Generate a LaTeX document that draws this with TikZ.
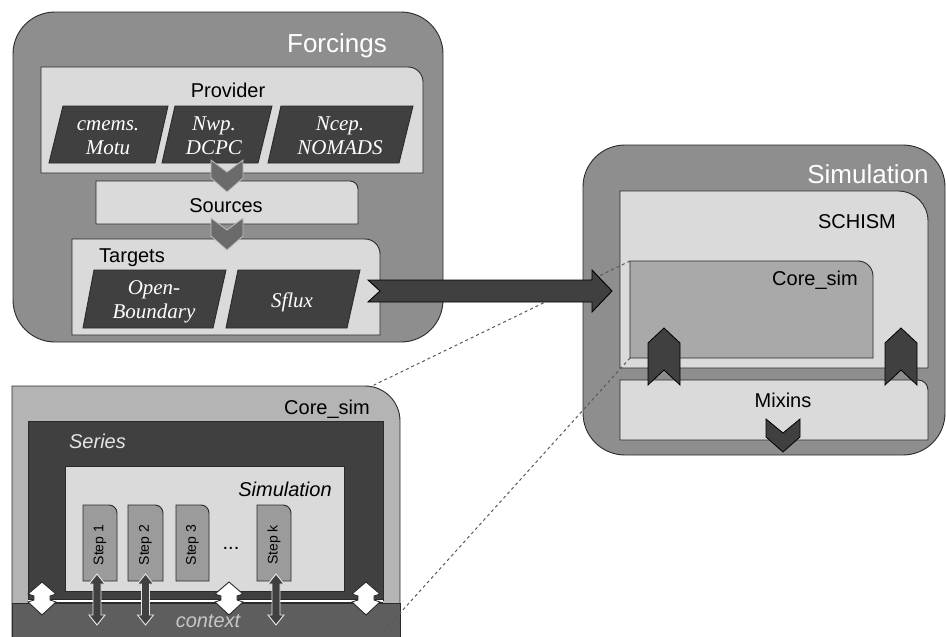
\documentclass[tikz,border=0pt]{standalone}
\usepackage{fontspec}
\setmainfont{Liberation Sans}
\newfontfamily\tnr{Liberation Serif}
\usetikzlibrary{calc}
\definecolor{outerg}{HTML}{8E8E8E}
\definecolor{lightg}{HTML}{DADADA}
\definecolor{darkg}{HTML}{404040}
\definecolor{midg}{HTML}{A9A9A9}
\definecolor{coreg}{HTML}{B4B4B4}
\definecolor{stepg}{HTML}{9B9B9B}
\definecolor{ctxg}{HTML}{5E5E5E}
\definecolor{chevg}{HTML}{6B6B6B}
\definecolor{edge}{HTML}{2A2A2A}
\tikzset{
  boxline/.style={draw=edge, line width=0.9pt},
  lbl/.style={font=\fontsize{20}{24}\selectfont, inner sep=0pt, text=black, anchor=base},
  biglbl/.style={font=\fontsize{26}{30}\selectfont, inner sep=0pt, text=white, anchor=base},
  itlbl/.style={font=\itshape\fontsize{20}{24}\selectfont, inner sep=0pt, anchor=base},
  ptext/.style={font=\tnr\itshape\fontsize{21}{24}\selectfont, text=white, align=center, inner sep=0pt, anchor=base},
  pshape/.style={draw=edge, line width=0.9pt, fill=darkg},
  chevA/.style={draw=black!25, line width=0.8pt, fill=chevg},
  chevB/.style={draw=black, line width=0.8pt, fill=darkg},
  steplbl/.style={font=\fontsize{14}{16}\selectfont, inner sep=0pt, rotate=90},
  stepar/.style={draw=black!10, line width=0.9pt, fill=darkg},
  whar/.style={draw=edge, line width=0.9pt, fill=white},
  dashln/.style={draw=black!65, dashed, line width=1pt},
  bigarrow/.style={draw=black, line width=0.9pt, fill=darkg},
  plainbox/.style={draw=edge, line width=0.9pt, inner sep=0pt},
  ghost/.style={inner sep=0pt, outer sep=0pt}
}
% box with only the top-right corner rounded: name, fill, x1, y1, x2, y2, r
\newcommand\rtbox[7]{%
  \draw[boxline, fill=#2] (#3,#6) -- (#3,#4) -- (#5-#7,#4)
    .. controls (#5-0.4477*#7,#4) and (#5,#4+0.4477*#7) .. (#5,#4+#7) -- (#5,#6) -- cycle;
  \node[ghost, minimum width={#5pt-#3pt}, minimum height={#6pt-#4pt}] (#1) at ({(#3+#5)/2},{(#4+#6)/2}) {};
}
% parallelogram: xTL, xTR, xBR, xBL, yT, yB
\newcommand\pgram[6]{%
  \draw[pshape] (#1,#5) -- (#2,#5) -- (#3,#6) -- (#4,#6) -- cycle;
}
% chevron: style, cx, y0, halfwidth, notch, shoulder, length, dir
\newcommand\chev[8][]{%
  \draw[#1] (#2-#4,#3) -- (#2,#3+#8*#5) -- (#2+#4,#3) -- (#2+#4,#3+#8*#6)
    -- (#2,#3+#8*#7) -- (#2-#4,#3+#8*#6) -- cycle;
}
% vertical double arrow: cx, ytop, ybot
\newcommand\dblarrow[3]{%
  \draw[stepar] (#1,#2) -- (#1+8,#2+10) -- (#1+4,#2+10) -- (#1+4,#3-10)
    -- (#1+8,#3-10) -- (#1,#3) -- (#1-8,#3-10) -- (#1-4,#3-10)
    -- (#1-4,#2+10) -- (#1-8,#2+10) -- cycle;
}
% white double arrow: cx
\newcommand\wharrow[1]{%
  \draw[whar] (#1,582) -- (#1+14,594) -- (#1+8,596) -- (#1+8,600) -- (#1+14,602)
    -- (#1,615) -- (#1-14,602) -- (#1-8,600) -- (#1-8,596) -- (#1-14,594) -- cycle;
}
\begin{document}
\begin{tikzpicture}[x=1pt,y=-1pt]
\useasboundingbox (0,0) rectangle (946,637);

% ================= Forcings =================
\node[plainbox, fill=outerg, rounded corners=42pt, minimum width=430pt, minimum height=330pt] (forcings) at (228,177) {};
\node[biglbl] (forcingsT) at (337,52) {Forcings};

\rtbox{provider}{lightg}{41}{67}{423}{173}{15}
\node[lbl] (providerT) at (228,97) {Provider};
\pgram{63}{168}{155}{49}{106}{163}
\node[ptext] (cmems) at (108,154) {cmems.\\Motu};
\pgram{175}{272}{258}{162}{106}{163}
\node[ptext] (nwp) at (214,154) {Nwp.\\DCPC};
\pgram{281}{413}{399}{268}{106}{163}
\node[ptext] (ncep) at (340,154) {Ncep.\\NOMADS};

\rtbox{sources}{lightg}{96}{181}{358}{224}{8}
\node[lbl] (sourcesT) at (226,212) {Sources};

\rtbox{targets}{lightg}{72}{239}{380}{335}{15}
\node[lbl] (targetsT) at (132,262) {Targets};
\pgram{94}{226}{213}{83}{270}{328}
\node[ptext] (openb) at (154,318) {Open-\\Boundary};
\pgram{238}{360}{347}{226}{270}{328}
\node[ptext] (sflux) at (292,307) {Sflux};

\chev[chevA]{227}{160}{16}{12}{18}{32}{1}
\chev[chevA]{227}{218}{16}{12}{18}{32}{1}

% ================= Simulation =================
\node[plainbox, fill=outerg, rounded corners=42pt, minimum width=362pt, minimum height=310pt] (simulation) at (764,300) {};
\node[biglbl] (simulationT) at (868,183) {Simulation};

\rtbox{schism}{lightg}{620}{191}{928}{368}{30}
\node[lbl] (schismT) at (857,228) {SCHISM};
\rtbox{coresim}{midg}{630}{261}{873}{358}{15}
\node[lbl] (coresimT) at (815,285) {Core\_sim};
\rtbox{mixins}{lightg}{620}{380}{928}{440}{10}
\node[lbl] (mixinsT) at (783,407) {Mixins};

\chev[chevB]{664}{385}{16}{15}{42}{57}{-1}
\chev[chevB]{901}{385}{16}{15}{42}{57}{-1}
\chev[chevB]{783}{419}{17}{14}{18}{33}{1}

% ================= Lower Core_sim =================
\rtbox{lowcore}{coreg}{12}{386}{400}{636.5}{35}
\node[lbl] (lowcoreT) at (327,414) {Core\_sim};
\node[plainbox, fill=darkg, minimum width=355pt, minimum height=179pt] (series) at (205.5,510.5) {};
\node[itlbl, text=black!10] (seriesT) at (97.5,448) {Series};
\node[plainbox, fill=lightg, minimum width=279pt, minimum height=125pt] (simbox) at (204.5,528.5) {};
\node[itlbl, text=black] (simboxT) at (285,496) {Simulation};

\rtbox{s1}{stepg}{83}{505}{117}{581}{8}
\rtbox{s2}{stepg}{128}{505}{163}{581}{8}
\rtbox{s3}{stepg}{176}{505}{209}{581}{8}
\rtbox{sk}{stepg}{257}{505}{291}{581}{8}
\node[steplbl] (s1T) at (100,545) {Step 1};
\node[steplbl] (s2T) at (145.5,545) {Step 2};
\node[steplbl] (s3T) at (192.5,545) {Step 3};
\node[steplbl] (skT) at (274,545) {Step k};
\node[lbl] (dots) at (231,549) {...};

\node[plainbox, fill=ctxg, minimum width=388pt, minimum height=34pt] (context) at (206,620) {};
\node[itlbl, text=black!22] (contextT) at (208,627) {context};
\draw[edge, line width=3.2pt] (28,601) -- (383,601);
\draw[white, line width=1.4pt] (28,601) -- (383,601);

\dblarrow{97}{574}{625}
\dblarrow{145.5}{574}{625}
\dblarrow{276}{574}{625}
\wharrow{42}
\wharrow{229}
\wharrow{366}

% ================= connectors =================
\coordinate (lowtr) at (370,387);
\coordinate (lowbr) at (383,632);
\draw[dashln] (coresim.north west) -- (lowtr);
\draw[dashln] (coresim.south west) -- (lowbr);

\coordinate (atail) at (368,291);
\coordinate (ahead) at (612,291);
\draw[bigarrow] ($(atail)+(0,-11)$) -- ($(ahead)+(-20,-11)$) -- ($(ahead)+(-20,-21)$)
  -- (ahead) -- ($(ahead)+(-20,21)$) -- ($(ahead)+(-20,11)$) -- ($(atail)+(0,11)$)
  -- ($(atail)+(12,0)$) -- cycle;
\end{tikzpicture}
\end{document}
